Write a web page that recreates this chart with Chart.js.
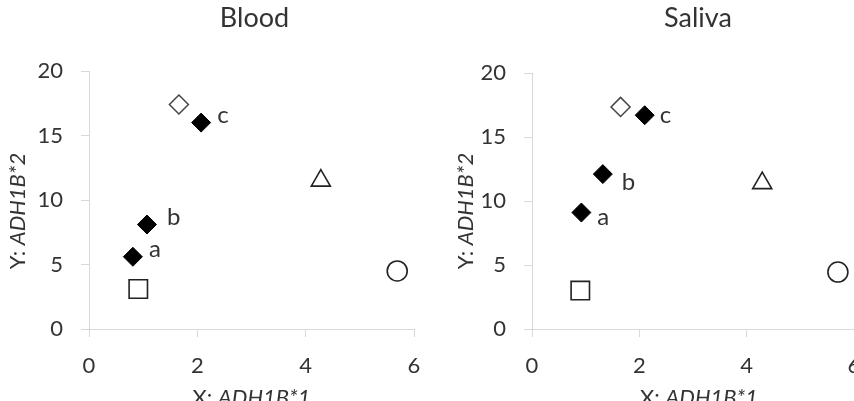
<!DOCTYPE html>
<html>
<head>
<meta charset="utf-8">
<script src="https://cdn.jsdelivr.net/npm/chart.js@4.4.1/dist/chart.umd.min.js"></script>
<style>
    body { margin: 0; width: 854px; height: 401px; overflow: hidden; background: #fff; position: relative; }
    .panel { position: absolute; top: 0; height: 401px; }
</style>
</head>
<body>
<div class="panel" style="left:0; width:430px;"><canvas id="bloodChart" width="430" height="401"></canvas></div>
<div class="panel" style="left:430px; width:440px;"><canvas id="salivaChart" width="440" height="401"></canvas></div>
<script>
// Panel titles and axis text
const panelTitles = ['Blood', 'Saliva'];
const xAxisTitle = ['X: ', 'ADH1B*1'];
const yAxisTitle = ['Y: ', 'ADH1B*2'];
const pointLetters = ['a', 'b', 'c'];

// Axis ranges
const xTicks = [0, 2, 4, 6];
const yTicks = [0, 5, 10, 15, 20];

// Blood: labelled samples (filled diamonds) and references
const bloodSampleX = [0.81, 1.07, 2.07];
const bloodSampleY = [5.6, 8.1, 16.0];
const bloodDiamond = [1.66, 17.4];
const bloodSquare = [0.91, 3.1];
const bloodTriangle = [4.28, 11.5];
const bloodCircle = [5.69, 4.5];

// Saliva
const salivaSampleX = [0.92, 1.32, 2.10];
const salivaSampleY = [9.1, 12.1, 16.7];
const salivaDiamond = [1.65, 17.35];
const salivaSquare = [0.90, 3.0];
const salivaTriangle = [4.29, 11.4];
const salivaCircle = [5.70, 4.45];

const textColor = '#333333';
const axisColor = '#d9d9d9';
const fontFamily = 'Lato, "Open Sans", sans-serif';

// Draws panel title, letters next to the filled diamonds and the mixed-style axis titles
const annotatePlugin = {
    id: 'annotate',
    afterDraw(chart, args, opts) {
        const ctx = chart.ctx;
        const area = chart.chartArea;
        ctx.save();
        ctx.fillStyle = textColor;

        // panel title
        ctx.font = '27px ' + fontFamily;
        ctx.textAlign = 'center';
        ctx.textBaseline = 'alphabetic';
        ctx.fillText(opts.title, (area.left + area.right) / 2 + opts.titleShift, 27);

        // letters a, b, c
        ctx.font = '24px ' + fontFamily;
        ctx.textAlign = 'left';
        const meta = chart.getDatasetMeta(0);
        meta.data.forEach((pt, i) => {
            const off = opts.letterOffsets[i];
            ctx.fillText(pointLetters[i], pt.x + off[0], pt.y + off[1]);
        });

        // x axis title
        drawMixed(ctx, xAxisTitle, (area.left + area.right) / 2 + opts.xTitleShift, 405);

        // y axis title, rotated
        ctx.translate(opts.yTitleX, 211);
        ctx.rotate(-Math.PI / 2);
        drawMixed(ctx, yAxisTitle, 0, 0);
        ctx.restore();
    }
};

function drawMixed(ctx, parts, cx, y) {
    const normal = '22px ' + fontFamily;
    const italic = 'italic 22px ' + fontFamily;
    ctx.font = normal;
    const w1 = ctx.measureText(parts[0]).width;
    ctx.font = italic;
    const w2 = ctx.measureText(parts[1]).width;
    const x0 = cx - (w1 + w2) / 2;
    ctx.textAlign = 'left';
    ctx.textBaseline = 'alphabetic';
    ctx.font = normal;
    ctx.fillText(parts[0], x0, y);
    ctx.font = italic;
    ctx.fillText(parts[1], x0 + w1, y);
}

function toPoints(xs, ys) {
    return xs.map((x, i) => ({ x: x, y: ys[i] }));
}

function buildDatasets(sx, sy, diamond, square, triangle, circle) {
    return [
        { data: toPoints(sx, sy), pointStyle: 'rectRot', pointRadius: 9.5,
          backgroundColor: '#000', borderColor: '#000', borderWidth: 1 },
        { data: [{ x: diamond[0], y: diamond[1] }], pointStyle: 'rectRot', pointRadius: 9.5,
          backgroundColor: '#fff', borderColor: '#444', borderWidth: 1.5 },
        { data: [{ x: square[0], y: square[1] }], pointStyle: 'rect', pointRadius: 13,
          backgroundColor: '#fff', borderColor: '#222', borderWidth: 1.6 },
        { data: [{ x: triangle[0], y: triangle[1] }], pointStyle: 'triangle', pointRadius: 11,
          backgroundColor: '#fff', borderColor: '#222', borderWidth: 1.6 },
        { data: [{ x: circle[0], y: circle[1] }], pointStyle: 'circle', pointRadius: 10,
          backgroundColor: '#fff', borderColor: '#222', borderWidth: 1.6 }
    ];
}

function renderPanel(canvasId, datasets, panel) {
    new Chart(document.getElementById(canvasId), {
        type: 'scatter',
        data: { datasets: datasets },
        options: {
            responsive: false,
            animation: false,
            layout: { padding: { top: panel.top, right: 16, left: 0, bottom: 0 } },
            scales: {
                x: {
                    type: 'linear',
                    min: xTicks[0],
                    max: xTicks[xTicks.length - 1],
                    afterBuildTicks: s => { s.ticks = xTicks.map(v => ({ value: v })); },
                    // fixed height, and no extra side padding for the end labels
                    afterFit: s => { s.height = 72; s.paddingLeft = 0; s.paddingRight = 0; },
                    grid: { drawOnChartArea: false, tickLength: 8, color: axisColor },
                    border: { color: axisColor },
                    ticks: { color: textColor, font: { family: fontFamily, size: 22 }, padding: 16, maxRotation: 0 }
                },
                y: {
                    type: 'linear',
                    min: yTicks[0],
                    max: yTicks[yTicks.length - 1],
                    afterBuildTicks: s => { s.ticks = yTicks.map(v => ({ value: v })); },
                    afterFit: s => { s.width = panel.yWidth; },
                    grid: { drawOnChartArea: false, tickLength: 8, color: axisColor },
                    border: { color: axisColor },
                    ticks: { color: textColor, font: { family: fontFamily, size: 22 }, padding: 18 }
                }
            },
            plugins: {
                legend: { display: false },
                tooltip: { enabled: false },
                annotate: panel.annotate
            }
        },
        plugins: [annotatePlugin]
    });
}

renderPanel('bloodChart',
    buildDatasets(bloodSampleX, bloodSampleY, bloodDiamond, bloodSquare, bloodTriangle, bloodCircle),
    { top: 71, yWidth: 89, annotate: {
        title: panelTitles[0], titleShift: 3, xTitleShift: 0, yTitleX: 25,
        letterOffsets: [[16, 0], [20, 0], [16, 0]] } });

renderPanel('salivaChart',
    buildDatasets(salivaSampleX, salivaSampleY, salivaDiamond, salivaSquare, salivaTriangle, salivaCircle),
    { top: 73, yWidth: 102, annotate: {
        title: panelTitles[1], titleShift: 5, xTitleShift: 6, yTitleX: 43,
        letterOffsets: [[16, 12], [19, 16], [15, 8]] } });
</script>
</body>
</html>
